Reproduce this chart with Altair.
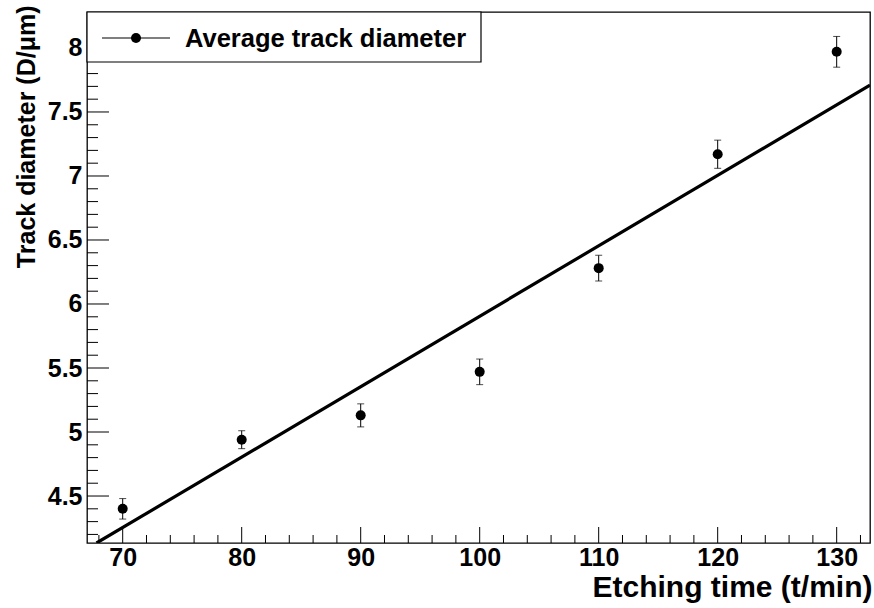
import altair as alt
import pandas as pd

# ---- data ----
etch_time = [70, 80, 90, 100, 110, 120, 130]
diameter = [4.40, 4.94, 5.13, 5.47, 6.28, 7.17, 7.97]
diam_err = [0.08, 0.07, 0.09, 0.10, 0.10, 0.11, 0.12]

fit_x = [67.8, 132.8]
fit_y = [4.133, 7.709]

x_major = [70, 80, 90, 100, 110, 120, 130]
x_minor = [68, 72, 74, 76, 78, 82, 84, 86, 88, 92, 94, 96, 98, 102, 104, 106, 108,
           112, 114, 116, 118, 122, 124, 126, 128, 132]
y_major = [4.5, 5.0, 5.5, 6.0, 6.5, 7.0, 7.5, 8.0]
y_minor = [4.2, 4.3, 4.4, 4.6, 4.7, 4.8, 4.9, 5.1, 5.2, 5.3, 5.4, 5.6, 5.7, 5.8, 5.9,
           6.1, 6.2, 6.3, 6.4, 6.6, 6.7, 6.8, 6.9, 7.1, 7.2, 7.3, 7.4, 7.6, 7.7, 7.8, 7.9,
           8.1, 8.2]

legend_label = ["Average track diameter"]
x_title = "Etching time (t/min)"
y_title = "Track diameter (D/\u03bcm)"

X_DOMAIN = [67.0, 132.8]
Y_DOMAIN = [4.133, 8.281]
W, H = 783, 531
FONT = "Liberation Sans"

df = pd.DataFrame({"t": etch_time, "d": diameter, "e": diam_err})
df["lo"] = df["d"] - df["e"]
df["hi"] = df["d"] + df["e"]

xs = alt.Scale(domain=X_DOMAIN, nice=False, zero=False)
ys = alt.Scale(domain=Y_DOMAIN, nice=False, zero=False)

x_axis = alt.Axis(values=x_major, ticks=False, domain=False, grid=False,
                  labelFont=FONT, labelFontWeight="bold", labelFontSize=25,
                  labelColor="black", labelPadding=2, labelFlush=False,
                  title=x_title, titleFont=FONT, titleFontWeight="bold",
                  titleFontSize=30, titleColor="black", titleAnchor="end",
                  titleAlign="right", titleX=W + 2, titleY=53,
                  titleBaseline="alphabetic")
y_axis = alt.Axis(values=y_major, ticks=False, domain=False, grid=False,
                  labelFont=FONT, labelFontWeight="bold", labelFontSize=25,
                  labelColor="black", labelPadding=5, labelFlush=False,
                  format="~g",
                  title=y_title, titleFont=FONT, titleFontWeight="bold",
                  titleFontSize=25, titleColor="black",
                  titleAlign="right", titleAngle=-90, titleX=-61, titleY=-7,
                  titleBaseline="middle")

base_points = alt.Chart(df)

fit = alt.Chart(pd.DataFrame({"t": fit_x, "d": fit_y})).mark_line(
    color="black", strokeWidth=3.2, clip=True
).encode(x=alt.X("t:Q", scale=xs, axis=x_axis), y=alt.Y("d:Q", scale=ys, axis=y_axis))

err = base_points.mark_rule(color="black", strokeWidth=1).encode(
    x=alt.X("t:Q", scale=xs), y=alt.Y("lo:Q", scale=ys), y2="hi:Q")
cap_lo = base_points.mark_tick(color="black", orient="horizontal", size=7, thickness=1).encode(
    x=alt.X("t:Q", scale=xs), y=alt.Y("lo:Q", scale=ys))
cap_hi = base_points.mark_tick(color="black", orient="horizontal", size=7, thickness=1).encode(
    x=alt.X("t:Q", scale=xs), y=alt.Y("hi:Q", scale=ys))
pts = base_points.mark_point(filled=True, color="black", opacity=1, size=100, shape="circle").encode(
    x=alt.X("t:Q", scale=xs), y=alt.Y("d:Q", scale=ys))

xmaj = alt.Chart(pd.DataFrame({"v": x_major})).mark_rule(color="black", strokeWidth=1).encode(
    x=alt.X("v:Q", scale=xs), y=alt.value(H), y2=alt.value(H - 16))
xmin = alt.Chart(pd.DataFrame({"v": x_minor})).mark_rule(color="black", strokeWidth=1, clip=True).encode(
    x=alt.X("v:Q", scale=xs), y=alt.value(H), y2=alt.value(H - 8))
ymaj = alt.Chart(pd.DataFrame({"v": y_major})).mark_rule(color="black", strokeWidth=1).encode(
    y=alt.Y("v:Q", scale=ys), x=alt.value(0), x2=alt.value(22))
ymin = alt.Chart(pd.DataFrame({"v": y_minor})).mark_rule(color="black", strokeWidth=1, clip=True).encode(
    y=alt.Y("v:Q", scale=ys), x=alt.value(0), x2=alt.value(11))

leg_df = pd.DataFrame({"label": legend_label})
leg_box = alt.Chart(leg_df).mark_rect(fill="white", stroke="black", strokeWidth=1.2).encode(
    x=alt.value(0), x2=alt.value(394), y=alt.value(0), y2=alt.value(50))
leg_line = alt.Chart(leg_df).mark_rule(color="black", strokeWidth=1.2).encode(
    x=alt.value(15), x2=alt.value(83), y=alt.value(26))
leg_dot = alt.Chart(leg_df).mark_point(filled=True, color="black", opacity=1, size=100, shape="circle").encode(
    x=alt.value(49), y=alt.value(26))
leg_text = alt.Chart(leg_df).mark_text(align="left", baseline="middle", font=FONT,
                                       fontWeight="bold", fontSize=25.5, color="black").encode(
    x=alt.value(98), y=alt.value(27), text="label:N")

chart = alt.layer(
    fit, err, cap_lo, cap_hi, pts, xmaj, xmin, ymaj, ymin,
    leg_box, leg_line, leg_dot, leg_text
).properties(
    width=W, height=H,
    autosize=alt.AutoSizeParams(type="none"),
    padding={"left": 87, "top": 12, "right": 4, "bottom": 65},
    background="white"
).configure_view(stroke="black", strokeWidth=1.3)

chart.save("out.html", embed_options={"renderer": "svg", "actions": False})
